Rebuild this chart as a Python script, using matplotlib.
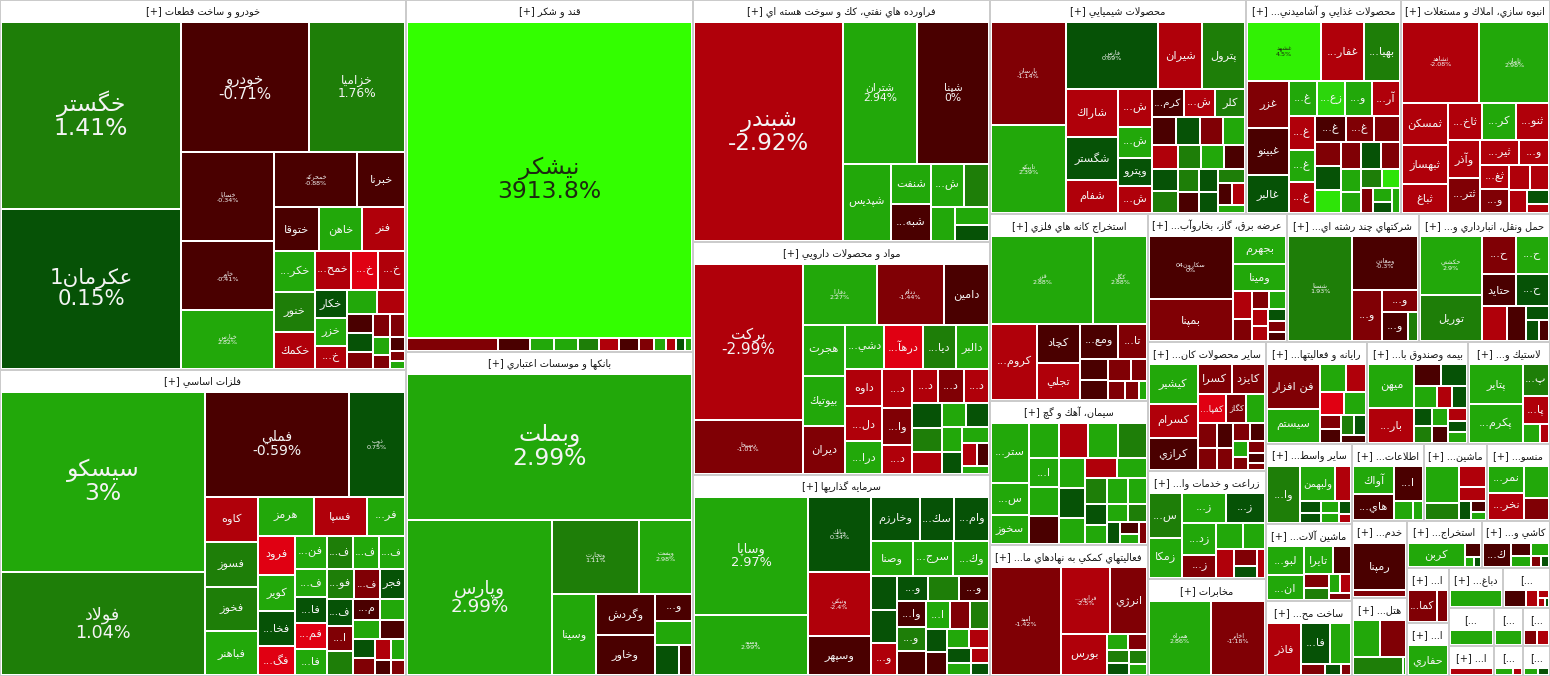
import math
import matplotlib
matplotlib.use("Agg")
import matplotlib.pyplot as plt
from matplotlib.patches import Rectangle
from matplotlib import font_manager, ft2font

# ---------------------------------------------------------------- data
SECTOR_NAMES = [
    "خودرو و ساخت قطعات", "فلزات اساسي", "قند و شكر", "بانكها و موسسات اعتباري",
    "فراورده هاي نفتي، كك و سوخت هسته اي", "مواد و محصولات دارويي", "سرمايه گذاريها",
    "محصولات شيميايي", "محصولات غذايي و آشاميدني به جز قند و شكر", "انبوه سازي، املاك و مستغلات",
    "استخراج كانه هاي فلزي", "سيمان، آهك و گچ", "فعاليتهاي كمكي به نهادهاي مالي واسط",
    "عرضه برق، گاز، بخاروآب گرم", "شركتهاي چند رشته اي صنعتي", "حمل ونقل، انبارداري و ارتباطات",
    "ساير محصولات كاني غيرفلزي", "زراعت و خدمات وابسته", "مخابرات",
    "رايانه و فعاليتهاي وابسته به آن", "بيمه وصندوق بازنشستگي به جزتامين اجتماعي",
    "لاستيك و پلاستيك", "ساير واسطه گريهاي مالي", "ماشين آلات و تجهيزات", "ساخت محصولات فلزي",
    "اطلاعات و ارتباطات", "ماشين آلات و دستگاههاي برقي", "منسوجات", "خدمات فني و مهندسي",
    "هتل و رستوران", "استخراج زغال سنگ", "كاشي و سراميك", "استخراج ساير معادن",
    "استخراج نفت گاز و خدمات جنبي", "دباغي، پرداخت چرم و ساخت انواع پاپوش",
    "سموم و كودهاي شيميايي", "پيمانكاري صنعتي", "انتشار، چاپ و تكثير", "محصولات چرمي",
    "ساخت راديو، تلويزيون", "حمل و نقل آبي", "خدمات مالي",
]
SECTOR_VALUES = [149850, 123930, 101024, 92988, 71632, 68968, 59496, 54741, 33015, 31950,
                 29359, 22765, 20567, 17780, 16891, 16764, 15210, 12636, 11466, 10300,
                 10200, 8300, 6970, 6630, 6460, 5475, 4850, 4840, 4240, 4230,
                 3600, 3250, 2280, 2200, 2150, 1848, 1720, 1333, 1120, 1040, 868, 806]

STOCK_NAMES = [
    ["خگستر", "عكرمان1", "خودرو", "خزاميا", "خساپا", "خاور", "خپارس", "خمحركه", "خبرنا", "ختوقا",
     "خاهن", "فنر", "خكر...", "خنور", "خكمك", "خمح...", "خ...", "خ...", "خكار", "خزر", "خ..."],
    ["سيسكو", "فولاد", "فملي", "ذوب", "كاوه", "فسوز", "فخوز", "فباهنر", "هرمز", "فسپا", "فر...",
     "فرود", "كوير", "فخا...", "فگ...", "فن...", "ف...", "ف...", "ف...", "ف...", "فا...", "فم...",
     "فا...", "فو...", "ف...", "فجر", "ف...", "ا...", "", "م..."],
    ["نيشكر"],
    ["وبملت", "وپارس", "وتجارت", "وپست", "وسينا", "وگردش", "وخاور", "و..."],
    ["شبندر", "شتران", "شپنا", "شپديس", "شنفت", "شبه...", "ش..."],
    ["بركت", "دسبحا", "دفارا", "ددام", "دامين", "هجرت", "بيوتيك", "ديران", "دشي...", "درهآ...",
     "ديا...", "دالبر", "داوه", "دل...", "درا...", "د...", "وا...", "د...", "د...", "د...", "د..."],
    ["وساپا", "وسپه", "وبانك", "ونيكي", "وسپهر", "وخارزم", "سك...", "وام...", "وصنا", "سرج...",
     "وك...", "", "", "و...", "و...", "", "و...", "وا...", "و...", "", "ا..."],
    ["پارسان", "تاپيكو", "فارس", "شيران", "پترول", "شاراك", "شگستر", "شفام", "ش...", "ش...",
     "وپترو", "ش...", "كرم...", "ش...", "كلر"],
    ["غشهد", "غفار...", "بهيا...", "غزر", "غبينو", "غالبر", "غ...", "زع...", "و...", "آر...",
     "غ...", "غ...", "غ...", "غ...", "غ..."],
    ["ثشاهد", "ثامان", "ثمسكن", "ثبهساز", "ثباغ", "ثاخ...", "كر...", "ثنو...", "وآذر", "ثتر...",
     "ثير...", "و...", "ثغ...", "و..."],
    ["قزر", "كگل", "كروم...", "كچاد", "تجلي", "ومع...", "تا..."],
    ["ستر...", "س...", "سخوز", "", "", "", "", "ا..."],
    ["اميد", "فرابور...", "انرژي", "بورس"],
    ["سكارون04", "بمپنا", "بجهرم", "ومينا"],
    ["شستا", "ومعادن", "و...", "و...", "و..."],
    ["حكشتي", "توريل", "ح...", "ح...", "حتايد", "ح..."],
    ["كيشير", "كسرام", "كرازي", "كسرا", "كايزد", "كفپا...", "كگاز"],
    ["س...", "زمكا", "ز...", "ز...", "زد...", "ز..."],
    ["همراه", "اخابر"],
    ["فن افزار", "سيستم"],
    ["ميهن", "بار..."],
    ["پتاير", "پكرم...", "پ...", "پا..."],
    ["وا...", "ولبهمن"],
    ["لبو...", "ان...", "تايرا"],
    ["فاذر", "فا..."],
    ["آواك", "هاي...", "ا..."],
    [],
    ["نمر...", "نخر..."],
    ["رمپنا"],
    [],
    ["كربن"],
    ["ك..."],
    ["كما..."],
    ["حفاري"],
    [], [], [], [], [], [], [], [],
]

STOCK_VALUES = [
    [33500, 28800, 16600, 12500, 8300, 6400, 5500, 4560, 2600, 1930, 1850, 1840, 1670, 1600, 1480,
     1450, 1060, 1050, 900, 870, 750, 700, 650, 500, 480, 450, 400, 350, 300, 250, 200, 150, 120],
    [35460, 20291, 14600, 5590, 2346, 2300, 2250, 2240, 2116, 2024, 1426, 1420, 1300, 1250, 1030,
     1020, 850, 845, 840, 835, 800, 795, 790, 785, 720, 715, 700, 650, 620, 560, 520, 480, 450, 400,
     360, 320, 280, 240, 200],
    [91000, 1218, 420, 322, 308, 280, 266, 266, 210, 154, 126, 126, 98],
    [40754, 22120, 6300, 3850, 3480, 2350, 2300, 1000, 900, 700, 400],
    [32120, 10360, 10080, 3666, 1600, 1480, 1419, 1075, 816, 578, 544],
    [15810, 5508, 4218, 3819, 2565, 2040, 2000, 1920, 1640, 1630, 1390, 1385, 1280, 1200, 1150, 1080,
     1050, 820, 810, 800, 790, 700, 680, 600, 560, 520, 480, 420, 380, 320, 260, 200],
    [12312, 6264, 4392, 3782, 2257, 1960, 1400, 1400, 1344, 1312, 1152, 800, 780, 760, 740, 720, 700,
     680, 660, 640, 620, 500, 480, 460, 440, 400, 360, 320, 280, 240, 200],
    [7242, 6248, 5859, 2772, 2709, 2352, 2156, 1617, 1184, 992, 900, 850, 825, 800, 780, 650, 640, 620,
     600, 580, 560, 540, 520, 500, 480, 450, 420, 400, 380, 350, 300, 260, 220],
    [3744, 2184, 1768, 1700, 1690, 1365, 840, 835, 830, 825, 760, 700, 690, 680, 600, 560, 540, 520,
     500, 480, 460, 440, 400, 380, 340, 300, 260, 220, 180, 150],
    [6006, 5382, 1892, 1720, 1300, 1216, 1210, 1200, 1150, 1100, 880, 700, 680, 650, 500, 450, 400,
     300, 200],
    [8500, 4420, 3311, 1599, 1517, 1258, 952, 560, 520, 500, 330, 300, 250, 140],
    [2100, 1120, 1015, 960, 950, 940, 930, 800, 780, 760, 740, 720, 650, 600, 560, 520, 480, 450, 420,
     380, 340, 300, 260, 220, 180, 150],
    [7412, 3196, 2380, 1880, 330, 300, 280, 260, 240, 200],
    [5050, 3393, 1395, 1350, 500, 400, 300, 280, 260, 240, 200, 180, 150],
    [6262, 3250, 1372, 720, 700, 280],
    [3360, 2640, 1156, 1150, 1020, 1010, 800, 600, 300, 250, 200],
    [1840, 1560, 1520, 952, 920, 780, 540, 500, 450, 400, 380, 350, 300, 260, 220, 200, 180, 150, 120],
    [1350, 1200, 1150, 1040, 950, 700, 600, 500, 450, 350, 250, 200],
    [4636, 3952],
    [2376, 1782, 725, 560, 520, 500, 300, 280, 260, 240, 200],
    [1806, 1428, 520, 510, 440, 300, 290, 280, 270, 260, 240, 220, 200, 180],
    [1989, 1950, 780, 700, 300, 160],
    [1856, 1150, 560, 220, 210, 200, 180, 150, 120],
    [1050, 900, 780, 480, 320, 300, 220, 200, 150],
    [1716, 1100, 840, 260, 170, 110],
    [1066, 984, 952, 340, 170],
    [1122, 500, 475, 325, 180, 150, 100],
    [925, 925, 750, 500],
    [2352, 350],
    [950, 950, 900, 60],
    [1500, 250, 100, 80],
    [650, 260, 230, 220, 110, 90],
    [1300, 450],
    [1450],
    [900],
    [350, 200, 80, 60, 40],
    [720],
    [650],
    [500],
    [300, 280],
    [300, 150],
    [250, 180],
]

STOCK_CHANGES = [
    [1.41, 0.15, -0.71, 1.76, -0.34, -0.41, 2.82, -0.88, -0.62, -0.55, 2.6, -2.5, 2.5, 1.5, -2.6,
     -2.4, -3.6, -2.5, 0.5, 2.6, -2.6, 2.5, -2.5, -0.5, 0.6, -1.5, -1.2, -1.5, 2.5, -1.5, -0.5, -1.5, 2.5],
    [3.0, 1.04, -0.59, 0.75, -2.5, 1.5, 1.5, 2.5, 2.5, -2.6, 2.5, -3.5, 2.5, 0.5, -3.5, 2.5, 1.5, 2.5,
     2.5, 2.5, 0.5, -3.5, 2.5, 1.5, -1.5, 0.5, 0.5, -1.5, 1.5, -0.5, 2.5, 2.5, -0.5, 0.5, -1.5, -2.5,
     2.5, -0.5, -1.5],
    [3913.8, -1.5, -0.5, 2.5, 2.5, 1.5, -2.5, -0.5, -1.5, 2.5, -2.5, 0.5, 2.5],
    [2.99, 2.99, 1.11, 2.98, 2.5, -0.5, -0.5, -0.5, 2.5, 0.5, -0.5],
    [-2.92, 2.94, 0.0, 2.88, 2.5, -0.5, 2.5, 1.5, 2.5, 2.5, 0.5],
    [-2.99, -1.01, 2.27, -1.44, -0.5, 2.5, 2.5, -1.5, 2.5, -3.5, 1.5, 2.5, -2.5, -2.5, 2.5, -2.5, -1.5,
     -2.5, -2.5, -1.5, -2.5, 0.5, 1.5, -2.5, 2.5, 0.5, 2.5, 0.5, 2.5, -2.5, -0.5, 2.5],
    [2.97, 2.99, 0.34, -2.4, -0.5, 0.5, 0.5, 0.5, 2.5, 2.5, 2.5, 0.5, 0.5, -2.5, 0.5, 1.5, -0.5, -0.5,
     1.5, -0.5, 2.5, -1.5, 1.5, 0.5, -0.5, 2.5, -2.5, 0.5, 2.5, -2.5, 0.5],
    [-1.14, 2.39, 0.69, -2.5, 1.5, -2.5, 0.5, -2.5, -2.5, 2.5, 0.5, -2.5, -0.5, -2.5, 1.5, -0.5, 0.5,
     -1.5, 2.5, -2.5, 0.5, 1.5, 1.5, 2.5, -0.5, 1.5, -0.5, 0.5, 0.5, 1.5, -0.5, -2.5, 2.5],
    [4.5, -2.5, 1.5, -1.5, -0.5, 0.5, 2.5, 3.5, 2.5, -2.5, -2.5, 2.5, -2.5, -0.5, -1.5, -1.5, -1.5,
     0.5, 4.0, -1.5, 0.5, -1.5, 2.5, 2.5, 1.5, 4.0, -1.5, 2.5, 0.5, 2.5],
    [-2.08, 2.98, -2.5, -2.5, -2.5, -2.5, 2.5, -2.5, -2.5, -1.5, -2.5, -2.5, -2.5, -1.5, -2.5, -2.5,
     -2.5, 0.5, -2.5],
    [2.88, 2.88, -2.5, -0.5, -2.5, -0.5, -1.5, -0.5, -0.5, -1.5, -1.5, -1.5, -1.5, 2.5],
    [2.5, 2.5, 2.5, 2.5, -2.5, 2.5, 1.5, 2.5, 2.5, -0.5, 2.5, 0.5, 2.5, -2.5, 2.5, 1.5, 2.5, 2.5, 0.5,
     2.5, 2.5, 1.5, 0.5, -0.5, 2.5, -1.5],
    [-1.42, -2.5, -1.5, -2.5, 2.5, -1.5, 1.5, 0.5, 1.5, 2.5],
    [0.0, -1.3, 2.5, 2.5, -2.5, -1.5, -1.5, 2.5, -2.5, -2.5, 0.5, -1.5, -0.5],
    [1.93, -0.3, -1.5, -1.5, -0.5, 1.5],
    [2.9, 1.5, -1.5, 2.5, -0.5, 0.5, -2.5, -0.5, 0.5, 0.5, -0.5],
    [2.5, -2.5, -0.5, -1.5, -1.5, -3.5, -1.5, 2.5, -1.5, -1.5, -0.5, -1.5, -1.5, -0.5, 2.5, -1.5,
     -1.5, -0.5, -1.5],
    [1.5, 2.5, 2.5, 0.5, 2.5, -1.5, 2.5, 2.5, -2.5, -1.5, 0.5, -2.5],
    [2.86, -1.18],
    [-1.5, 2.5, 2.5, -2.5, -3.5, 2.5, -1.5, -0.5, 1.5, 0.5, -0.5],
    [2.5, -2.5, -0.5, 0.5, 2.5, -2.5, 0.5, 0.5, 1.5, 2.5, -0.5, -2.5, 0.5, 2.5],
    [2.5, 2.5, 1.5, -2.5, 2.5, -2.5],
    [1.5, 2.5, -2.5, 0.5, 0.5, 2.5, 2.5, 0.5, -2.5],
    [2.5, 2.5, 2.5, -0.5, -1.5, 1.5, 2.5, -2.5, -1.5],
    [-2.5, 0.5, 2.5, -1.5, 0.5, -1.5],
    [2.5, -0.5, -0.5, 2.5, 2.5],
    [2.5, 1.5, -2.5, -2.5, 0.5, -0.5, 2.5],
    [2.5, -2.5, 2.5, -1.5],
    [-0.5, -1.5],
    [2.5, -1.5, 1.5, 2.5],
    [2.5, -0.5, 2.5, 0.5],
    [-0.5, -0.5, 2.5, 2.5, -1.5, 0.5],
    [-1.5, -1.5],
    [2.5],
    [2.5],
    [-0.5, -2.5, -2.5, -2.5, 0.5],
    [2.5],
    [-2.5],
    [2.5],
    [-1.5, -2.5],
    [2.5, -2.5],
    [2.5, 0.5],
]

# ---------------------------------------------------------------- figure constants
W, H = 1550, 676
HEADER = 21
FONT = "DejaVu Sans"

# ---------------------------------------------------------------- Persian shaping + bidi
_F = {
    'ء': (0xFE80, None, None, None), 'آ': (0xFE81, 0xFE82, None, None),
    'أ': (0xFE83, 0xFE84, None, None), 'ؤ': (0xFE85, 0xFE86, None, None),
    'إ': (0xFE87, 0xFE88, None, None), 'ئ': (0xFE89, 0xFE8A, 0xFE8B, 0xFE8C),
    'ا': (0xFE8D, 0xFE8E, None, None), 'ب': (0xFE8F, 0xFE90, 0xFE91, 0xFE92),
    'ة': (0xFE93, 0xFE94, None, None), 'ت': (0xFE95, 0xFE96, 0xFE97, 0xFE98),
    'ث': (0xFE99, 0xFE9A, 0xFE9B, 0xFE9C), 'ج': (0xFE9D, 0xFE9E, 0xFE9F, 0xFEA0),
    'ح': (0xFEA1, 0xFEA2, 0xFEA3, 0xFEA4), 'خ': (0xFEA5, 0xFEA6, 0xFEA7, 0xFEA8),
    'د': (0xFEA9, 0xFEAA, None, None), 'ذ': (0xFEAB, 0xFEAC, None, None),
    'ر': (0xFEAD, 0xFEAE, None, None), 'ز': (0xFEAF, 0xFEB0, None, None),
    'س': (0xFEB1, 0xFEB2, 0xFEB3, 0xFEB4), 'ش': (0xFEB5, 0xFEB6, 0xFEB7, 0xFEB8),
    'ص': (0xFEB9, 0xFEBA, 0xFEBB, 0xFEBC), 'ض': (0xFEBD, 0xFEBE, 0xFEBF, 0xFEC0),
    'ط': (0xFEC1, 0xFEC2, 0xFEC3, 0xFEC4), 'ظ': (0xFEC5, 0xFEC6, 0xFEC7, 0xFEC8),
    'ع': (0xFEC9, 0xFECA, 0xFECB, 0xFECC), 'غ': (0xFECD, 0xFECE, 0xFECF, 0xFED0),
    'ف': (0xFED1, 0xFED2, 0xFED3, 0xFED4), 'ق': (0xFED5, 0xFED6, 0xFED7, 0xFED8),
    'ك': (0xFED9, 0xFEDA, 0xFEDB, 0xFEDC), 'ل': (0xFEDD, 0xFEDE, 0xFEDF, 0xFEE0),
    'م': (0xFEE1, 0xFEE2, 0xFEE3, 0xFEE4), 'ن': (0xFEE5, 0xFEE6, 0xFEE7, 0xFEE8),
    'ه': (0xFEE9, 0xFEEA, 0xFEEB, 0xFEEC), 'و': (0xFEED, 0xFEEE, None, None),
    'ى': (0xFEEF, 0xFEF0, None, None), 'ي': (0xFEF1, 0xFEF2, 0xFEF3, 0xFEF4),
    'پ': (0xFB56, 0xFB57, 0xFB58, 0xFB59), 'چ': (0xFB7A, 0xFB7B, 0xFB7C, 0xFB7D),
    'ژ': (0xFB8A, 0xFB8B, None, None), 'ک': (0xFB8E, 0xFB8F, 0xFB90, 0xFB91),
    'گ': (0xFB92, 0xFB93, 0xFB94, 0xFB95), 'ی': (0xFBFC, 0xFBFD, 0xFBFE, 0xFBFF),
}
_LAM_ALEF = {'آ': (0xFEF5, 0xFEF6), 'أ': (0xFEF7, 0xFEF8), 'إ': (0xFEF9, 0xFEFA), 'ا': (0xFEFB, 0xFEFC)}
_ftfont = ft2font.FT2Font(font_manager.findfont(FONT))


def _has(cp):
    return cp is not None and _ftfont.get_char_index(cp) != 0


def _joins_fwd(c):
    f = _F.get(c)
    return f is not None and f[2] is not None


def _joins_back(c):
    f = _F.get(c)
    return f is not None and f[1] is not None


def shape(s):
    out, i, n = [], 0, len(s)
    while i < n:
        c = s[i]
        if c not in _F:
            out.append(c)
            i += 1
            continue
        pc = i > 0 and _joins_fwd(s[i - 1])
        if c == 'ل' and i + 1 < n and s[i + 1] in _LAM_ALEF:
            cp = _LAM_ALEF[s[i + 1]][1 if pc else 0]
            out.append(chr(cp) if _has(cp) else c + s[i + 1])
            i += 2
            continue
        nc = _joins_fwd(c) and i + 1 < n and _joins_back(s[i + 1])
        f = _F[c]
        if pc and nc:
            cp = f[3]
        elif pc:
            cp = f[1]
        elif nc:
            cp = f[2]
        else:
            cp = f[0]
        out.append(chr(cp) if _has(cp) else c)
        i += 1
    return ''.join(out)


def _is_ltr(ch):
    return ch.isascii() and (ch.isalnum() or ch in '.%+-')


def visual(s):
    runs = []
    for ch in shape(s):
        t = _is_ltr(ch)
        if runs and runs[-1][0] == t:
            runs[-1][1].append(ch)
        else:
            runs.append([t, [ch]])
    return ''.join(''.join(chs if t else reversed(chs)) for t, chs in reversed(runs))


# ---------------------------------------------------------------- squarified treemap
def _layout(sizes, x, y, dx, dy):
    tot = sum(sizes)
    rects = []
    if dx >= dy:
        w = tot / dy
        for s in sizes:
            h = s / w
            rects.append((x, y, w, h))
            y += h
    else:
        h = tot / dx
        for s in sizes:
            w = s / h
            rects.append((x, y, w, h))
            x += w
    return rects


def _leftover(sizes, x, y, dx, dy):
    tot = sum(sizes)
    if dx >= dy:
        w = tot / dy
        return x + w, y, dx - w, dy
    h = tot / dx
    return x, y + h, dx, dy - h


def _worst(sizes, x, y, dx, dy):
    r = 0
    for (_, _, w, h) in _layout(sizes, x, y, dx, dy):
        if w <= 0 or h <= 0:
            return 1e9
        r = max(r, w / h, h / w)
    return r


def squarify(values, x, y, dx, dy):
    tot = float(sum(values))
    sizes = [v * dx * dy / tot for v in values]
    rects = []
    while sizes:
        if len(sizes) == 1:
            rects += _layout(sizes, x, y, dx, dy)
            break
        i = 1
        while i < len(sizes) and _worst(sizes[:i], x, y, dx, dy) >= _worst(sizes[:i + 1], x, y, dx, dy):
            i += 1
        cur, sizes = sizes[:i], sizes[i:]
        rects += _layout(cur, x, y, dx, dy)
        x, y, dx, dy = _leftover(cur, x, y, dx, dy)
    return rects


# ---------------------------------------------------------------- colours
def _hex(c):
    return '#%02x%02x%02x' % tuple(int(round(v)) for v in c)


def change_color(c):
    if c > 3.0:
        t = min((c - 3.0) / 2.0, 1.0)
        a, b = (0x2a, 0xc8, 0x10), (0x33, 0xff, 0x00)
        return _hex([a[k] + (b[k] - a[k]) * t for k in range(3)])
    if c >= 2.0:
        return '#22a80a'
    if c >= 1.0:
        return '#1e7e08'
    if c > 0:
        return '#065206'
    if c > -1.0:
        return '#4a0000'
    if c > -2.0:
        return '#800005'
    if c > -3.0:
        return '#b0000a'
    return '#e00012'


def text_color(hexc):
    r, g, b = (int(hexc[i:i + 2], 16) / 255 for i in (1, 3, 5))
    lum = 0.299 * r + 0.587 * g + 0.114 * b
    return '#1c2a10' if lum > 0.6 else '#f4f4f4'


def fmt_pct(v):
    return f"{v:g}%"


# ---------------------------------------------------------------- draw
fig = plt.figure(figsize=(W / 100, H / 100), dpi=100, facecolor='#cbcbcb')
ax = fig.add_axes([0, 0, 1, 1])
ax.set_xlim(0, W)
ax.set_ylim(H, 0)
ax.axis('off')
ax.set_facecolor('#cbcbcb')
renderer = fig.canvas.get_renderer()


def fit_text(x, y, s, size, maxw, maxh, minsize=3.5, **kw):
    t = ax.text(x, y, s, fontsize=size, ha='center', va='center', family=FONT, **kw)
    bb = t.get_window_extent(renderer=renderer)
    if bb.width > maxw or bb.height > maxh:
        sc = min(maxw / max(bb.width, 1e-6), maxh / max(bb.height, 1e-6))
        new = size * sc
        if new < minsize:
            t.remove()
            return None
        t.set_fontsize(new)
    return t


def header_text(cx, cy, name, maxw):
    def make(s):
        return ax.text(cx, cy, s, fontsize=7, ha='center', va='center', family=FONT, color='#151515')
    t = make('[+] ' + visual(name))
    if t.get_window_extent(renderer=renderer).width <= maxw:
        return
    t.remove()
    for m in range(len(name) - 1, 0, -1):
        s = '[+] ' + visual(name[:m].rstrip() + '...')
        t = make(s)
        if t.get_window_extent(renderer=renderer).width <= maxw:
            return
        t.remove()
    t = make('[...')
    if t.get_window_extent(renderer=renderer).width > maxw:
        t.remove()


sector_rects = squarify(SECTOR_VALUES, 0, 0, W, H)
for k, (sx, sy, sw, sh) in enumerate(sector_rects):
    ax.add_patch(Rectangle((sx + 1, sy + 1), sw - 2, sh - 2, facecolor='white', edgecolor='none'))
    header_text(sx + sw / 2, sy + 1 + HEADER / 2 + 0.5, SECTOR_NAMES[k], sw - 8)
    tx, ty, tw, th = sx + 1, sy + 1 + HEADER, sw - 2, sh - 2 - HEADER
    vals = STOCK_VALUES[k]
    chg = STOCK_CHANGES[k]
    names = STOCK_NAMES[k] + [''] * (len(vals) - len(STOCK_NAMES[k]))
    for j, (rx, ry, rw, rh) in enumerate(squarify(vals, tx, ty, tw, th)):
        col = change_color(chg[j])
        ax.add_patch(Rectangle((rx + 1, ry + 1), max(rw - 2, 0.4), max(rh - 2, 0.4),
                               facecolor=col, edgecolor='none'))
        tc = text_color(col)
        cx, cy = rx + rw / 2, ry + rh / 2
        area = rw * rh
        name = names[j]
        if area >= 9500 and min(rw, rh) >= 60:
            px = min(23.5, 12 + 0.157 * (math.sqrt(area) - 110))
            fit_text(cx, cy, visual(name) + '\n' + fmt_pct(chg[j]), px * 0.72, rw - 8, rh - 8,
                     color=tc, linespacing=1.0)
        elif name and area >= 3000 and min(rw, rh) >= 48:
            fit_text(cx, cy, visual(name) + '\n' + fmt_pct(chg[j]), 4.6, rw - 4, rh - 4,
                     color=tc, linespacing=1.0)
        elif name and min(rw, rh) >= 16:
            fit_text(cx, cy, visual(name), 8.2, rw - 5, rh - 4, minsize=5.5, color=tc)

fig.savefig('out.png', dpi=100, facecolor=fig.get_facecolor())
